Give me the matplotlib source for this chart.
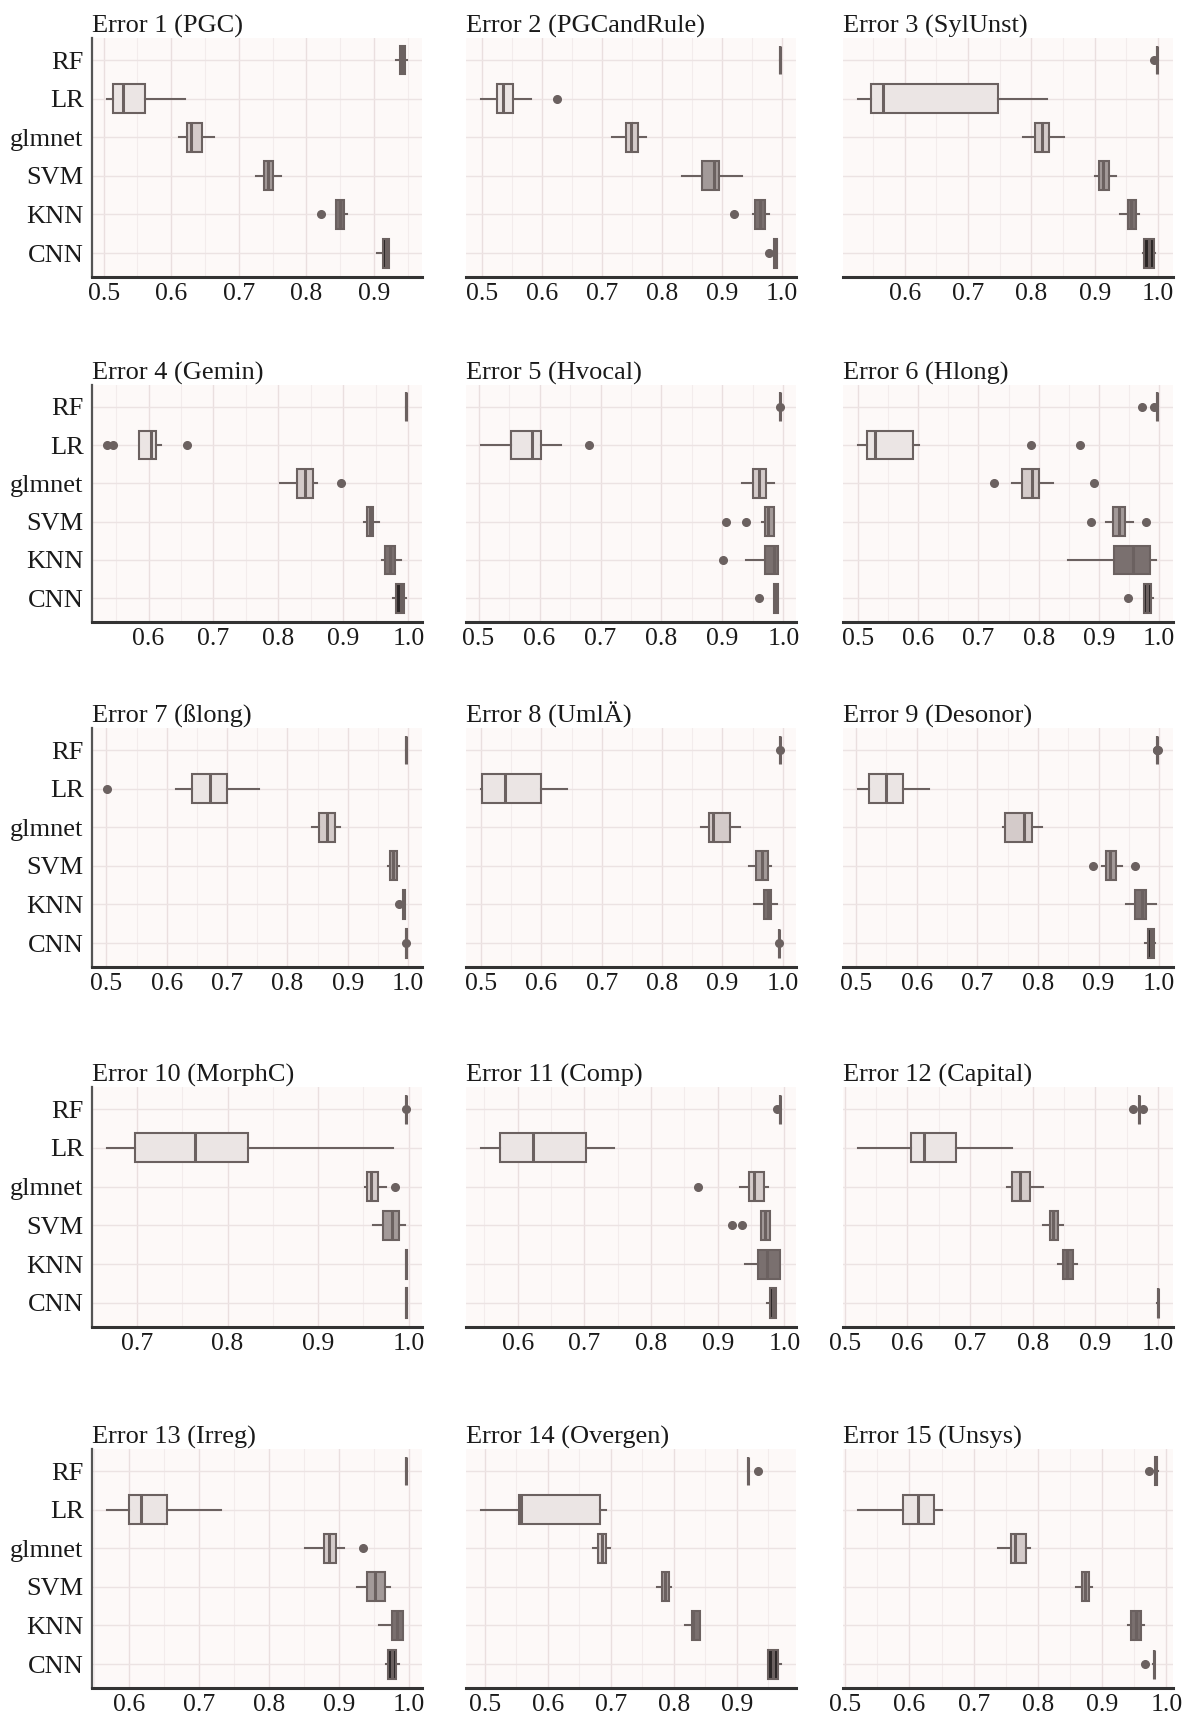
import numpy as np
import matplotlib
matplotlib.use("Agg")
import matplotlib.pyplot as plt
from matplotlib.ticker import MultipleLocator, FormatStrFormatter

plt.rcParams['font.family'] = ['Liberation Serif', 'DejaVu Serif']

methods = ["RF", "LR", "glmnet", "SVM", "KNN", "CNN"]
titles = ["Error 1 (PGC)", "Error 2 (PGCandRule)", "Error 3 (SylUnst)",
          "Error 4 (Gemin)", "Error 5 (Hvocal)", "Error 6 (Hlong)",
          "Error 7 (ßlong)", "Error 8 (UmlÄ)", "Error 9 (Desonor)",
          "Error 10 (MorphC)", "Error 11 (Comp)", "Error 12 (Capital)",
          "Error 13 (Irreg)", "Error 14 (Overgen)", "Error 15 (Unsys)"]

# whisker low, q1, median, q3, whisker high  (rows follow `methods`)
box_1 = [[0.933, 0.938, 0.942, 0.946, 0.949], [0.505, 0.514, 0.529, 0.561, 0.621],
         [0.611, 0.623, 0.629, 0.646, 0.664], [0.725, 0.737, 0.744, 0.750, 0.763],
         [0.844, 0.844, 0.850, 0.856, 0.860], [0.905, 0.913, 0.918, 0.922, 0.923]]
out_1 = [[], [], [], [], [0.822], []]

box_2 = [[0.996, 0.997, 0.997, 0.997, 0.998], [0.498, 0.525, 0.534, 0.551, 0.581],
         [0.717, 0.740, 0.748, 0.760, 0.773], [0.833, 0.867, 0.887, 0.895, 0.933],
         [0.952, 0.955, 0.963, 0.972, 0.978], [0.987, 0.987, 0.990, 0.992, 0.992]]
out_2 = [[], [0.625], [], [], [0.920], [0.978]]

box_3 = [[0.998, 0.999, 0.999, 0.999, 1.000], [0.526, 0.547, 0.566, 0.747, 0.825],
         [0.786, 0.806, 0.817, 0.828, 0.851], [0.900, 0.906, 0.913, 0.923, 0.934],
         [0.940, 0.952, 0.957, 0.965, 0.970], [0.977, 0.978, 0.986, 0.994, 0.995]]
out_3 = [[0.994], [], [], [], [], []]

box_4 = [[0.996, 0.997, 0.997, 0.997, 0.998], [0.585, 0.586, 0.603, 0.612, 0.619],
         [0.803, 0.829, 0.841, 0.854, 0.860], [0.932, 0.937, 0.941, 0.946, 0.955],
         [0.959, 0.964, 0.972, 0.980, 0.988], [0.976, 0.981, 0.988, 0.993, 0.997]]
out_4 = [[], [0.536, 0.545, 0.659], [0.897], [], [], []]

box_5 = [[0.994, 0.995, 0.995, 0.995, 0.996], [0.504, 0.553, 0.588, 0.603, 0.635],
         [0.932, 0.950, 0.960, 0.971, 0.984], [0.965, 0.969, 0.975, 0.984, 0.984],
         [0.938, 0.969, 0.985, 0.991, 0.991], [0.984, 0.984, 0.988, 0.991, 0.991]]
out_5 = [[0.994], [0.681], [], [0.905, 0.938], [0.901], [0.960]]

box_6 = [[0.996, 0.997, 0.997, 0.997, 0.998], [0.500, 0.515, 0.529, 0.591, 0.601],
         [0.756, 0.772, 0.789, 0.800, 0.823], [0.911, 0.924, 0.934, 0.943, 0.956],
         [0.849, 0.925, 0.956, 0.985, 0.994], [0.975, 0.975, 0.980, 0.987, 0.990]]
out_6 = [[0.972, 0.991], [0.787, 0.869], [0.725, 0.892], [0.886, 0.978], [], [0.949]]

box_7 = [[0.997, 0.997, 0.997, 0.997, 0.998], [0.616, 0.641, 0.671, 0.700, 0.753],
         [0.841, 0.853, 0.865, 0.879, 0.887], [0.966, 0.970, 0.975, 0.981, 0.985],
         [0.991, 0.991, 0.993, 0.995, 0.995], [0.997, 0.997, 0.997, 0.998, 0.998]]
out_7 = [[], [0.501], [], [], [0.985], [0.997]]

box_8 = [[0.995, 0.996, 0.996, 0.996, 0.997], [0.500, 0.501, 0.539, 0.599, 0.642],
         [0.865, 0.878, 0.884, 0.913, 0.929], [0.944, 0.956, 0.965, 0.975, 0.981],
         [0.953, 0.969, 0.975, 0.981, 0.991], [0.993, 0.994, 0.994, 0.994, 0.995]]
out_8 = [[0.996], [], [], [], [], [0.994]]

box_9 = [[0.996, 0.997, 0.997, 0.997, 0.998], [0.503, 0.521, 0.550, 0.578, 0.620],
         [0.743, 0.746, 0.777, 0.790, 0.806], [0.905, 0.913, 0.918, 0.928, 0.938],
         [0.945, 0.960, 0.972, 0.979, 0.994], [0.977, 0.982, 0.986, 0.992, 0.993]]
out_9 = [[0.996, 0.997, 0.998], [], [], [0.890, 0.960], [], []]

box_10 = [[0.996, 0.997, 0.997, 0.997, 0.998], [0.667, 0.698, 0.764, 0.823, 0.983],
          [0.952, 0.954, 0.958, 0.966, 0.975], [0.961, 0.971, 0.981, 0.989, 0.996],
          [0.997, 0.997, 0.997, 0.998, 0.998], [0.997, 0.997, 0.997, 0.998, 0.998]]
out_10 = [[0.997], [], [0.985], [], [], []]

box_11 = [[0.993, 0.994, 0.994, 0.994, 0.995], [0.545, 0.574, 0.623, 0.702, 0.745],
          [0.934, 0.947, 0.954, 0.970, 0.976], [0.965, 0.965, 0.971, 0.979, 0.979],
          [0.941, 0.960, 0.974, 0.993, 0.993], [0.974, 0.979, 0.983, 0.987, 0.987]]
out_11 = [[0.989], [], [0.871], [0.922, 0.937], [], []]

box_12 = [[0.969, 0.970, 0.970, 0.970, 0.971], [0.521, 0.605, 0.627, 0.677, 0.767],
          [0.759, 0.767, 0.779, 0.795, 0.816], [0.816, 0.828, 0.833, 0.840, 0.849],
          [0.840, 0.849, 0.855, 0.865, 0.871], [0.999, 1.000, 1.000, 1.000, 1.000]]
out_12 = [[0.960, 0.976], [], [], [], [], []]

box_13 = [[0.995, 0.996, 0.996, 0.996, 0.997], [0.569, 0.600, 0.617, 0.654, 0.732],
          [0.851, 0.878, 0.886, 0.896, 0.907], [0.925, 0.940, 0.952, 0.965, 0.973],
          [0.957, 0.976, 0.983, 0.991, 0.991], [0.967, 0.970, 0.976, 0.981, 0.985]]
out_13 = [[], [], [0.934], [], [], []]

box_14 = [[0.917, 0.918, 0.918, 0.918, 0.919], [0.494, 0.554, 0.557, 0.683, 0.692],
          [0.671, 0.680, 0.686, 0.692, 0.699], [0.773, 0.781, 0.786, 0.793, 0.795],
          [0.818, 0.828, 0.831, 0.842, 0.842], [0.949, 0.949, 0.957, 0.966, 0.970]]
out_14 = [[0.934], [], [], [], [], []]

box_15 = [[0.981, 0.983, 0.984, 0.985, 0.987], [0.520, 0.590, 0.613, 0.639, 0.651],
          [0.738, 0.758, 0.764, 0.781, 0.787], [0.860, 0.868, 0.874, 0.879, 0.885],
          [0.940, 0.945, 0.953, 0.961, 0.965], [0.979, 0.980, 0.980, 0.980, 0.981]]
out_15 = [[0.973], [], [], [], [], [0.967]]

boxes = [box_1, box_2, box_3, box_4, box_5, box_6, box_7, box_8, box_9,
         box_10, box_11, box_12, box_13, box_14, box_15]
outs = [out_1, out_2, out_3, out_4, out_5, out_6, out_7, out_8, out_9,
        out_10, out_11, out_12, out_13, out_14, out_15]

fills = ["#857b7a", "#ebe5e4", "#d4cbca", "#a39a99", "#7a706f", "#2b2626"]
edge = "#6b6160"

W, H = 1184, 1716
fig = plt.figure(figsize=(W / 100, H / 100), dpi=100)
fig.patch.set_facecolor("white")

col_left = [92, 466, 843]
col_w = 330
row_top = [38, 385, 728, 1087, 1449]
row_bot = [277, 622, 967, 1327, 1688]

positions = [5, 4, 3, 2, 1, 0]

for k in range(15):
    r, c = divmod(k, 3)
    ax = fig.add_axes([col_left[c] / W, 1 - row_bot[r] / H,
                       col_w / W, (row_bot[r] - row_top[r]) / H])
    ax.set_facecolor("#fdf9f8")
    stats = []
    for i, m in enumerate(methods):
        lo, q1, med, q3, hi = boxes[k][i]
        stats.append(dict(whislo=lo, q1=q1, med=med, q3=q3, whishi=hi,
                          fliers=np.array(outs[k][i]), label=m))
    bp = ax.bxp(stats, positions=positions, vert=False, widths=0.75,
                patch_artist=True, showcaps=False,
                boxprops=dict(edgecolor=edge, linewidth=1.5),
                whiskerprops=dict(color=edge, linewidth=1.5),
                medianprops=dict(color=edge, linewidth=2.2),
                flierprops=dict(marker="o", markerfacecolor=edge,
                                markeredgecolor=edge, markersize=5.5))
    for patch, fc in zip(bp["boxes"], fills):
        patch.set_facecolor(fc)
        patch.set_zorder(3)
    for line in bp["medians"] + bp["whiskers"] + bp["fliers"]:
        line.set_zorder(4)

    ax.margins(x=0.05)
    ax.set_ylim(-0.62, 5.57)
    ax.xaxis.set_major_locator(MultipleLocator(0.1))
    ax.xaxis.set_minor_locator(MultipleLocator(0.05))
    ax.xaxis.set_major_formatter(FormatStrFormatter("%.1f"))
    ax.grid(True, which="major", axis="x", color="#eadfdf", linewidth=1.0, zorder=0)
    ax.grid(True, which="minor", axis="x", color="#f3ecec", linewidth=0.8, zorder=0)
    ax.grid(True, which="major", axis="y", color="#ece3e3", linewidth=1.0, zorder=0)
    ax.set_axisbelow(True)
    ax.tick_params(axis="both", which="both", length=0)
    ax.tick_params(axis="x", labelsize=18.5, labelcolor="#1a1a1a", pad=4)
    ax.tick_params(axis="y", labelsize=19, labelcolor="#1a1a1a", pad=6)

    for s in ["top", "right"]:
        ax.spines[s].set_visible(False)
    ax.spines["bottom"].set_color("#333333")
    ax.spines["bottom"].set_linewidth(2.2)
    if c == 0:
        ax.spines["left"].set_color("#555555")
        ax.spines["left"].set_linewidth(1.6)
    else:
        ax.spines["left"].set_visible(False)
        ax.set_yticklabels([])

    ax.set_title(titles[k], loc="left", fontsize=19, color="#1a1a1a", pad=4)

fig.savefig("out.png", dpi=100, facecolor="white")
